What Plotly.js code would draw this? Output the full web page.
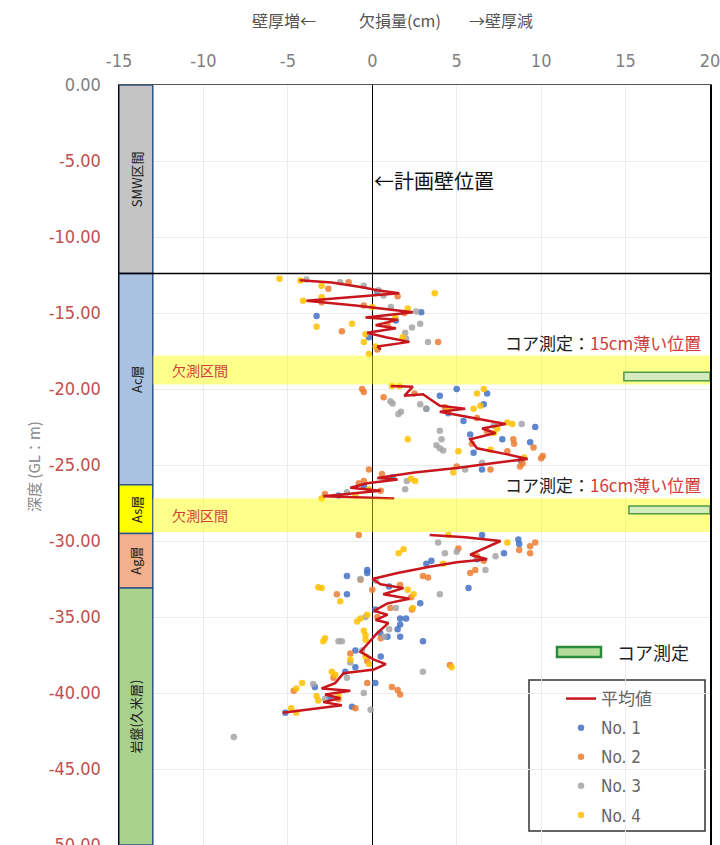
<!DOCTYPE html>
<html><head><meta charset="utf-8">
<script src="https://cdn.plot.ly/plotly-3.0.1.min.js"></script>
<style>html,body{margin:0;padding:0;background:#fff}#chart{width:720px;height:845px}</style>
</head><body><div id="chart"></div>
<script>
// ---------------- data ----------------
const xTicks = [-15, -10, -5, 0, 5, 10, 15, 20];
const depthTicks = [0, -5, -10, -15, -20, -25, -30, -35, -40, -45, -50];

const layerNames = ['SMW区間', 'Ac層', 'As層', 'Ag層', '岩盤(久米層)'];
const layerTop = [0, -12.4, -26.3, -29.5, -33.1];
const layerBottom = [-12.4, -26.3, -29.5, -33.1, -50];

const gapTop = [-17.8, -27.2];
const gapBottom = [-19.7, -29.4];
const gapLabel = '欠測区間';

const coreTop = [-18.9, -27.7];
const coreBottom = [-19.45, -28.2];
const coreXStart = [14.9, 15.2];
const coreXEnd = [20, 20];
const coreThinner = [15, 16];

const meanDepth = [-12.85,-13.0,-13.3,-13.5,-13.7,-14.2,-14.5,-14.95,-15.3,-15.45,-15.8,-16.0,-16.3,-16.6,-16.9,-17.2,-17.4,
  null,
  -19.8,-19.85,-20.45,-20.35,-21.1,-21.3,-21.5,-21.9,-22.3,-22.6,-22.9,-23.3,-23.9,-24.3,-24.6,-24.9,-25.2,-25.5,-25.85,-25.95,-26.2,-26.5,-26.7,-27.05,-27.2,
  null,
  -29.6,-29.75,-30.0,-30.9,-31.2,-31.4,-31.7,-32.1,-32.5,-32.85,-33.1,-33.5,-33.8,-34.1,-34.6,-34.85,-35.2,-35.4,-36.05,-36.8,-37.3,-37.8,-38.1,-38.45,-38.7,-39.35,-39.7,-39.85,-40.1,-40.35,-40.6,-40.8,-41.1,-41.3];
const meanX = [-4.3,-2.4,-0.6,0.3,1.6,-3.9,-1.0,2.4,-0.4,1.5,0.2,1.4,-0.3,0.8,2.2,0.3,0.5,
  null,
  1.1,2.4,1.9,3.0,4.0,5.5,4.0,6.0,7.9,6.5,7.3,5.8,6.2,8.0,9.2,7.0,5.0,2.5,0.3,1.5,-0.3,-1.3,0.5,-2.9,1.3,
  null,
  3.4,5.5,7.6,5.8,6.8,5.0,3.4,1.5,0.0,0.5,1.85,0.65,2.2,0.9,0.1,0.9,0.2,0.95,0.3,-0.3,-0.7,0.1,0.8,0.1,-1.7,-2.2,-3.0,-1.3,-2.8,-1.9,-2.9,-1.8,-4.1,-5.3];

const no1Depth = [-13.6,-14.95,-15.2,-15.5,-16.6,
  -20.0,-20.3,-20.45,-21.0,-21.3,-21.6,-22.1,-22.5,-23.0,-23.3,-23.5,-24.2,-24.7,-25.3,-25.8,-26.4,-27.0,
  -29.6,-29.9,-30.2,-30.8,-31.2,-31.3,-31.5,-31.9,-32.1,-32.3,-33.0,-33.1,-33.5,-34.1,-34.5,-35.1,-35.1,-35.5,-35.8,-36.05,-36.3,-36.3,-36.6,-37.2,-37.6,-38.3,-38.6,-39.35,-39.6,-40.3,-40.9,-41.3];
const no1X = [0.3,2.9,-3.3,1.4,-0.2,
  5.0,6.8,4.0,6.6,3.2,4.5,5.4,9.65,5.8,7.7,9.35,6.0,8.8,6.5,1.2,-0.5,-2.0,
  6.5,8.65,8.7,7.8,6.2,3.5,3.2,-0.3,-0.3,-1.5,1.0,5.7,-1.5,2.84,0.18,1.65,2.0,1.65,1.5,0.47,1.65,0.9,3.0,-1.0,0.5,-1.0,-1.6,0.18,-3.4,-2.5,-1.2,-5.15];

const no2Depth = [-12.97,-13.4,-13.9,-14.3,-14.5,-15.0,-15.8,-16.2,-16.9,-17.4,
  -20.0,-20.2,-20.55,-20.3,-21.2,-21.9,-22.8,-23.3,-23.6,-23.6,-23.85,-24.1,-24.4,-24.55,-24.9,-25.1,-25.1,-25.3,-25.3,-25.6,-26.05,-26.2,-26.7,-26.9,
  -29.6,-30.1,-30.35,-30.5,-30.6,-30.8,-31.0,-31.3,-31.9,-32.1,-32.3,-32.4,-32.55,-32.9,-33.2,-33.5,-33.7,-34.4,-34.5,-35.0,-36.4,-37.4,-37.9,-38.15,-39.0,-39.35,-39.6,-39.8,-39.85,-40.1,-40.4,-41.0];
const no2X = [-1.4,-2.6,1.5,-3.0,-0.5,1.9,0.9,-1.8,3.9,0.3,
  -0.6,-0.5,0.67,2.5,4.3,6.2,6.8,8.35,8.4,5.9,9.55,8.0,10.1,10.0,8.9,8.75,5.0,7.0,-0.2,0.57,-0.5,-0.8,0.5,-2.8,
  -0.8,9.65,9.35,5.1,8.7,9.35,6.2,6.6,6.1,5.8,3.0,3.3,-0.7,1.65,0.0,-2.1,2.3,1.07,2.35,0.3,0.5,-1.3,-0.3,4.6,-2.3,-0.3,1.16,1.5,-4.65,1.65,-2.0,-1.0];

const no3Depth = [-12.8,-12.97,-13.2,-13.5,-13.85,-14.6,-14.9,-15.7,-15.96,-16.3,-16.7,-16.9,
  -20.8,-20.95,-21.0,-21.3,-21.5,-21.65,-22.3,-22.4,-22.75,-23.3,-23.7,-23.9,-24.05,-24.85,-25.3,-26.05,-26.6,-26.8,
  -30.1,-30.7,-30.8,-31.0,-31.9,-32.5,-32.6,-33.5,-34.4,-35.0,-35.8,-36.3,-36.6,-36.6,-37.2,-38.0,-38.6,-39.0,-39.4,-40.0,-40.4,-41.1,-42.9];
const no3X = [-3.9,-1.9,-0.5,0.37,0.67,1.1,2.6,2.84,2.35,1.95,2.0,3.3,
  1.07,1.2,2.84,3.2,1.7,1.55,8.85,7.2,4.0,4.1,3.8,4.0,4.2,6.5,5.5,2.05,1.95,-1.5,
  3.9,5.0,4.3,7.3,6.7,-0.7,0.2,4.0,1.4,-0.4,1.0,0.7,-1.8,-2.0,-0.6,-1.3,3.0,-1.5,-3.5,-0.5,-2.8,-0.1,-8.2];

const no4Depth = [-12.75,-12.86,-13.2,-13.7,-13.96,-14.2,-14.6,-14.7,-15.3,-15.7,-15.9,-16.4,-16.6,-16.9,-17.2,-17.7,
  -19.8,-19.8,-20.0,-20.3,-21.1,-21.3,-21.4,-22.2,-22.3,-22.6,-22.9,-23.3,-24.0,-24.1,-24.5,-25.5,-25.9,-26.05,-26.6,-27.0,-27.2,
  -29.6,-30.1,-30.55,-30.8,-31.5,-33.05,-33.1,-33.2,-33.5,-33.97,-34.4,-34.85,-35.1,-35.3,-35.9,-36.2,-36.4,-36.5,-36.6,-37.6,-37.8,-38.1,-38.3,-38.6,-38.8,-39.35,-39.7,-40.2,-40.2,-40.5,-41.0,-41.3];
const no4X = [-5.5,-4.26,-3.0,3.7,-3.0,-4.1,0.0,2.1,1.36,-1.2,-3.3,-0.4,1.8,-0.5,0.2,-0.2,
  1.16,1.6,6.6,6.2,6.4,6.0,4.5,8.0,8.3,7.4,7.2,2.1,7.0,5.1,9.0,4.8,2.3,2.54,-0.2,-1.0,-3.0,
  4.5,8.0,1.85,1.56,4.2,-3.2,-3.0,2.1,2.45,-1.9,2.4,-0.3,-0.7,-0.9,-0.5,-0.4,-2.8,-0.4,-2.9,-0.4,-1.3,-0.2,4.7,-2.4,-2.2,-4.15,-4.5,-3.3,-2.0,-3.2,-4.8,-4.5];

// ---------------- styling ----------------
const W = 720, H = 845, ML = 119, MR = 10, MT = 85, MB = 0;
const PW = W - ML - MR, PH = H - MT - MB;
const px = p => (p - ML) / PW;
const py = p => (H - MB - p) / PH;

const NUM_FONT = 'DejaVu Sans Condensed, DejaVu Sans, sans-serif';
const JP_FONT = 'Noto Sans CJK JP, sans-serif';
const layerFill = ['#c4c4c4', '#a9c2e2', '#ffff00', '#f3b08f', '#a9d18e'];
const seriesColors = ['#4472c4', '#ed7d31', '#a5a5a5', '#ffc000'];

const yTickText = depthTicks.map(v => v === 0 ? v.toFixed(2)
  : '<span style="color:#c0504d">' + v.toFixed(2) + '</span>');

const meanTrace = {
  type: 'scatter', mode: 'lines', x: meanX, y: meanDepth, name: '平均値',
  line: {color: '#c8161d', width: 2.5}, connectgaps: false,
  legendrank: 1, legendgroup: 'g0', hoverinfo: 'skip'
};
const series = [[no1X, no1Depth, 'No. 1'], [no2X, no2Depth, 'No. 2'], [no3X, no3Depth, 'No. 3'], [no4X, no4Depth, 'No. 4']];
const markerTraces = series.map((s, i) => ({
  type: 'scatter', mode: 'markers', x: s[0], y: s[1], name: s[2],
  marker: {color: seriesColors[i], size: 6.5, opacity: 0.85},
  legendrank: i + 2, legendgroup: 'g' + (i + 1), hoverinfo: 'skip'
}));
// markers drawn beneath the mean line
const allTraces = markerTraces.concat([meanTrace]);

const shapes = [];
const annotations = [];

// layer column
layerNames.forEach((n, i) => {
  shapes.push({type: 'rect', xref: 'x', yref: 'y', x0: -15, x1: -13, y0: layerTop[i], y1: layerBottom[i],
    fillcolor: layerFill[i], line: {color: '#2f528f', width: 1.5}, layer: 'above'});
  annotations.push({xref: 'x', yref: 'y', x: -14, y: (layerTop[i] + layerBottom[i]) / 2, text: n,
    xanchor: 'center', yanchor: 'middle',
    textangle: -90, showarrow: false, font: {family: JP_FONT, size: 13, color: '#222'}});
});

// missing bands
gapTop.forEach((t, i) => {
  shapes.push({type: 'rect', xref: 'x', yref: 'y', x0: -13, x1: 20, y0: t, y1: gapBottom[i],
    fillcolor: 'rgba(255,255,0,0.45)', line: {width: 0}, layer: 'above'});
  annotations.push({xref: 'x', yref: 'y', x: -12, y: (t + gapBottom[i]) / 2, xanchor: 'left', yanchor: 'middle',
    text: gapLabel, showarrow: false, font: {family: JP_FONT, size: 14, color: '#d23b3b'}});
});

// core measurement
coreTop.forEach((t, i) => {
  shapes.push({type: 'rect', xref: 'x', yref: 'y', x0: coreXStart[i], x1: coreXEnd[i], y0: t, y1: coreBottom[i],
    fillcolor: '#d3ebbd', line: {color: '#4f9a45', width: 1.5}, layer: 'above'});
  annotations.push({xref: 'x', yref: 'y', x: 19.6, y: gapTop[i], xanchor: 'right', yanchor: 'bottom', yshift: -1,
    text: 'コア測定：<span style="color:#d23b3b">' + coreThinner[i] + 'cm薄い位置</span>',
    showarrow: false, font: {family: JP_FONT, size: 17, color: '#222'}});
});

// horizontal boundary line (SMW bottom)
shapes.push({type: 'line', xref: 'x', yref: 'y', x0: -15, x1: 20, y0: layerBottom[0], y1: layerBottom[0],
  line: {color: '#000', width: 1.5}, layer: 'above'});

// planned wall label
annotations.push({xref: 'x', yref: 'y', x: 0, y: -6.25, xanchor: 'left', yanchor: 'middle', text: '←計画壁位置',
  showarrow: false, font: {family: JP_FONT, size: 20, color: '#111'}});

// top titles
const titleFont = {family: JP_FONT, size: 16, color: '#555'};
annotations.push({xref: 'x', yref: 'paper', x: -5.2, y: py(20), xanchor: 'center', yanchor: 'middle',
  text: '壁厚増←', showarrow: false, font: titleFont});
annotations.push({xref: 'x', yref: 'paper', x: 1.66, y: py(20), xanchor: 'center', yanchor: 'middle',
  text: '欠損量(cm)', showarrow: false, font: titleFont});
annotations.push({xref: 'x', yref: 'paper', x: 7.6, y: py(20), xanchor: 'center', yanchor: 'middle',
  text: '→壁厚減', showarrow: false, font: titleFont});

// y title
annotations.push({xref: 'paper', yref: 'paper', x: px(33), y: py(467), xanchor: 'center', yanchor: 'middle',
  text: '深度 (GL：m)', textangle: -90,
  showarrow: false, font: {family: JP_FONT, size: 15, color: '#888'}});

// legend box + core legend
shapes.push({type: 'rect', xref: 'paper', yref: 'paper', x0: px(529), x1: px(705), y0: py(831), y1: py(680),
  fillcolor: 'rgba(255,255,255,0.9)', line: {color: '#333', width: 1.5}, layer: 'below'});
shapes.push({type: 'rect', xref: 'paper', yref: 'paper', x0: px(557), x1: px(601), y0: py(657), y1: py(647),
  fillcolor: '#b6dc9c', line: {color: '#2e8b3e', width: 2.5}, layer: 'above'});
annotations.push({xref: 'paper', yref: 'paper', x: px(615), y: py(652), xanchor: 'left', yanchor: 'middle',
  text: 'コア測定', showarrow: false, font: {family: JP_FONT, size: 18, color: '#222'}});

const layout = {
  width: W, height: H,
  margin: {l: ML, r: MR, t: MT, b: MB, pad: 0},
  paper_bgcolor: '#fff', plot_bgcolor: '#fff',
  showlegend: true,
  legend: {x: px(561), xanchor: 'left', y: py(681), yanchor: 'top', bgcolor: 'rgba(0,0,0,0)', borderwidth: 0,
    font: {family: 'DejaVu Sans Condensed, Noto Sans CJK JP, sans-serif', size: 17, color: '#666'},
    tracegroupgap: 4, traceorder: 'grouped'},
  xaxis: {range: [-15, 20], side: 'top', tickmode: 'array', tickvals: xTicks, ticktext: xTicks.map(String),
    tickfont: {family: NUM_FONT, size: 18, color: '#7f7f7f'}, ticks: 'outside', ticklen: 9, tickcolor: 'rgba(0,0,0,0)',
    ticklabeloverflow: 'allow',
    showgrid: true, gridcolor: '#ececec', gridwidth: 1,
    zeroline: true, zerolinecolor: '#000', zerolinewidth: 1.5,
    showline: true, linecolor: '#555', linewidth: 1.5, mirror: true, fixedrange: true},
  yaxis: {range: [-50, 0], tickmode: 'array', tickvals: depthTicks, ticktext: yTickText,
    tickfont: {family: NUM_FONT, size: 18, color: '#7f7f7f'}, ticks: 'outside', ticklen: 13, tickcolor: 'rgba(0,0,0,0)',
    ticklabeloverflow: 'allow',
    showgrid: true, gridcolor: '#ececec', gridwidth: 1, zeroline: false,
    showline: true, linecolor: '#000', linewidth: 1.5, mirror: true, fixedrange: true},
  shapes: shapes,
  annotations: annotations
};

Plotly.newPlot('chart', allTraces, layout, {staticPlot: true, displayModeBar: false});
</script></body></html>
